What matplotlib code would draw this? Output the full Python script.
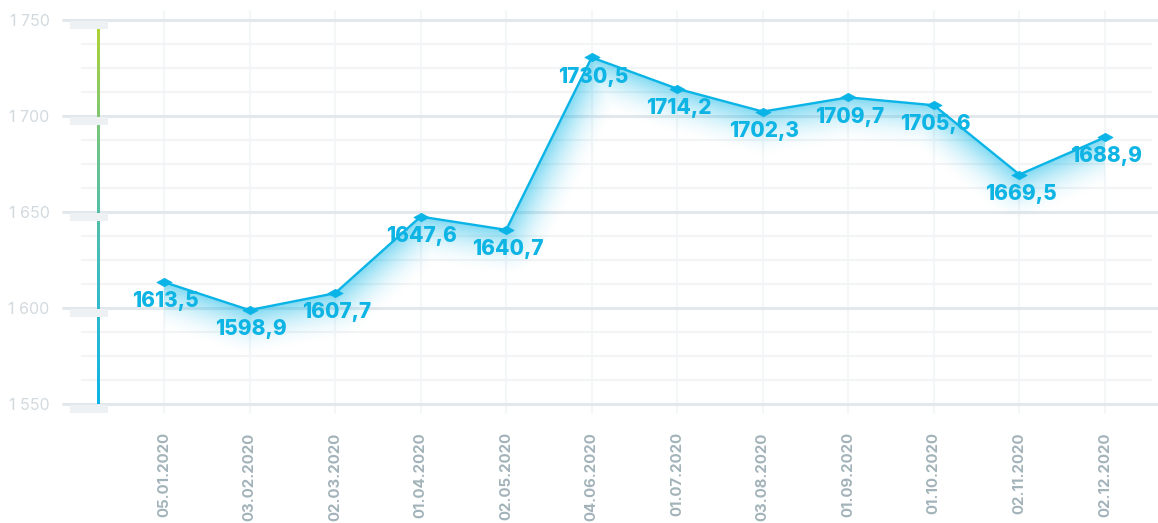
import numpy as np
import matplotlib
matplotlib.use("Agg")
import matplotlib.pyplot as plt
from matplotlib import font_manager as fm
from matplotlib.colors import LinearSegmentedColormap
from matplotlib.path import Path
from matplotlib.patches import Rectangle

# ---- data -------------------------------------------------------------
dates = ["05.01.2020", "03.02.2020", "02.03.2020", "01.04.2020",
         "02.05.2020", "04.06.2020", "01.07.2020", "03.08.2020",
         "01.09.2020", "01.10.2020", "02.11.2020", "02.12.2020"]
values = [1613.5, 1598.9, 1607.7, 1647.6, 1640.7, 1730.5,
          1714.2, 1702.3, 1709.7, 1705.6, 1669.5, 1688.9]
y_ticks = [1550, 1600, 1650, 1700, 1750]
y_tick_labels = ["1 550", "1 600", "1 650", "1 700", "1 750"]

# ---- fonts ------------------------------------------------------------
def inter_file(stem):
    for f in fm.fontManager.ttflist:
        if f.fname.endswith(stem):
            return f.fname
    return None

def font(stem, size, weight):
    path = inter_file(stem)
    if path:
        return fm.FontProperties(fname=path, size=size)
    return fm.FontProperties(family=["Inter", "DejaVu Sans"], weight=weight, size=size)

value_font = font("Inter-ExtraBold.otf", 15, "heavy")
xtick_font = font("Inter-Bold.otf", 10.8, "bold")
ytick_font = font("Inter-Regular.otf", 11.5, "normal")

# ---- style ------------------------------------------------------------
LINE_C = "#0bb4e6"
LABEL_C = "#0db4e4"
XTICK_C = "#a2b3b9"
YTICK_C = "#d2dadf"
MAJOR_C = "#e3e8ec"
MINOR_C = "#f2f4f6"
VGRID_C = "#f4f6f8"

W_PX, H_PX, DPI = 1158, 523, 100
fig = plt.figure(figsize=(W_PX / DPI, H_PX / DPI), dpi=DPI)
ax_left, ax_bottom = 62, 109.4
ax_w, ax_h = W_PX - ax_left, 403.2
ax = fig.add_axes([ax_left / W_PX, ax_bottom / H_PX, ax_w / W_PX, ax_h / H_PX])

xmin, xmax = -1.192, 11.62
ymin, ymax = 1545, 1755
for s in ax.spines.values():
    s.set_visible(False)

x = np.arange(len(values))
sx = ax_w / (xmax - xmin)     # pixels per x unit
sy = ax_h / (ymax - ymin)     # pixels per y unit

def px_to_x(p):
    return xmin + (p - ax_left) / sx

# ---- grid -------------------------------------------------------------
ax.vlines(x, ymin, ymax, color=VGRID_C, lw=1.6, zorder=0)
minor = [v for v in np.arange(1550, 1750.1, 12.5) if v not in y_ticks]
ax.hlines(minor, px_to_x(81), px_to_x(1152), color=MINOR_C, lw=1.5, zorder=0.5)
ax.hlines(y_ticks, xmin, xmax, color=MAJOR_C, lw=2.2, zorder=0.6)

# gradient axis bar with small plates under each major tick
bar_cmap = LinearSegmentedColormap.from_list(
    "bar", ["#0cb4e8", "#3dbbc4", "#6cc38e", "#aed136"])
grad = np.linspace(0, 1, 256)[:, None]
ax.imshow(grad, cmap=bar_cmap, origin="lower", aspect="auto",
          extent=(px_to_x(96.8), px_to_x(99.6), 1550, 1745.3),
          interpolation="bilinear", zorder=1)
plate_h = 7.5 / sy
for t in y_ticks:
    ax.add_patch(Rectangle((px_to_x(70), t - plate_h - 0.6), px_to_x(108) - px_to_x(70),
                           plate_h, color="#eef1f3", lw=0, zorder=1.5))

# ---- soft glow under the line -----------------------------------------
W, H = int(round(ax_w)), int(round(ax_h))
gx = np.arange(W) + 0.5
gy = np.arange(H) + 0.5
PX, PY = np.meshgrid(gx, gy)          # PY measured from bottom
vx = (x - xmin) * sx
vy = (np.array(values) - ymin) * sy
dist = np.full(PX.shape, np.inf)
for i in range(len(vx) - 1):
    ax0, ay0, bx, by = vx[i], vy[i], vx[i + 1], vy[i + 1]
    dx, dy = bx - ax0, by - ay0
    t = ((PX - ax0) * dx + (PY - ay0) * dy) / (dx * dx + dy * dy)
    t = np.clip(t, 0, 1)
    d = np.hypot(PX - (ax0 + t * dx), PY - (ay0 + t * dy))
    dist = np.minimum(dist, d)
line_y = np.interp(gx, vx, vy)
below = (PY < line_y[None, :]) & (PX >= vx[0]) & (PX <= vx[-1])
alpha = np.clip(1 - dist / 48.0, 0, 1) ** 2 * 0.5
alpha[~below] = 0
img = np.zeros((H, W, 4))
img[..., 0], img[..., 1], img[..., 2] = 0 / 255, 180 / 255, 230 / 255
img[..., 3] = alpha
ax.imshow(img, origin="lower", extent=(xmin, xmax, ymin, ymax),
          aspect="auto", interpolation="bilinear", zorder=2)
ax.set_xlim(xmin, xmax)
ax.set_ylim(ymin, ymax)

# ---- line, markers, labels --------------------------------------------
diamond = Path([(-1, 0), (0, 0.55), (1, 0), (0, -0.55), (-1, 0)],
               [Path.MOVETO, Path.LINETO, Path.LINETO, Path.LINETO, Path.CLOSEPOLY])
ax.plot(x, values, color=LINE_C, lw=1.7, zorder=3,
        marker=diamond, markersize=11, markerfacecolor=LINE_C,
        markeredgecolor=LINE_C, markeredgewidth=0.5)

for xi, v in zip(x, values):
    ax.annotate(f"{v:.1f}".replace(".", ","), (xi, v), xytext=(1, -13.8),
                textcoords="offset points", ha="center", va="center",
                fontproperties=value_font, color=LABEL_C, zorder=4)

# ---- ticks ------------------------------------------------------------
ax.set_xticks(x)
ax.set_xticklabels(dates, rotation=90, fontproperties=xtick_font, color=XTICK_C)
ax.set_yticks(y_ticks)
ax.set_yticklabels(y_tick_labels, fontproperties=ytick_font, color=YTICK_C)
ax.tick_params(axis="x", length=0, pad=13.5)
ax.tick_params(axis="y", length=0, pad=9)

fig.savefig("out.png", dpi=DPI)
